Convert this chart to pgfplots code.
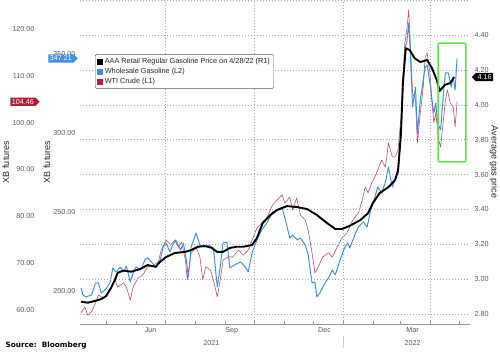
\documentclass[border=0pt]{standalone}
\usepackage{pgfplots}
\pgfplotsset{compat=1.18}
\usepackage{fontspec}
\setmainfont{Liberation Sans}
\newfontfamily\srcfont{DejaVu Sans}
\usetikzlibrary{shapes.symbols}

\definecolor{wblue}{RGB}{66,140,218}
\definecolor{wred}{RGB}{178,85,105}
\definecolor{tagblue}{RGB}{61,143,224}
\definecolor{tagred}{RGB}{178,30,60}
\definecolor{boxgreen}{RGB}{102,221,85}
\definecolor{ticktext}{RGB}{90,90,90}

\pgfplotstableread{
d v
94 2.871
101 2.865
109 2.876
115 2.886
120 2.903
125 2.949
129 2.995
132 3.037
138 3.049
146 3.043
155 3.058
163 3.081
171 3.071
176 3.100
182 3.127
191 3.150
202 3.157
208 3.167
215 3.186
222 3.190
229 3.180
235 3.156
241 3.157
248 3.179
255 3.186
262 3.186
271 3.196
276 3.236
282 3.322
290 3.368
297 3.397
307 3.419
317 3.414
328 3.402
338 3.368
348 3.324
357 3.288
364 3.288
372 3.306
383 3.339
391 3.379
396 3.437
403 3.494
412 3.528
419 3.569
422 3.626
425 3.838
427 4.125
430 4.325
434 4.314
439 4.268
445 4.245
452 4.257
457 4.211
462 4.142
465 4.079
470 4.113
476 4.125
480 4.159
}\retail

\pgfplotstableread{
d v
94 201.9
96 197.5
99 196.2
105 197.5
109 205.1
112 205.1
115 198.7
119 200.6
124 205.1
127 214.6
130 212.0
135 215.2
138 212.0
141 215.8
145 205.7
148 211.4
151 215.2
156 213.3
160 219.6
163 220.9
167 218.4
172 214.6
176 219.6
179 227.8
182 230.4
186 224.7
189 229.1
192 232.3
197 225.9
200 230.4
203 219.6
205 208.9
208 227.8
213 236.7
217 229.1
221 227.8
226 229.1
231 227.2
235 202.5
238 215.2
241 230.4
245 231.0
248 214.6
253 216.5
259 218.4
264 215.2
267 212.0
271 224.1
276 232.3
281 238.6
287 243.7
292 250.0
297 251.3
302 252.5
305 246.2
310 233.5
313 235.4
318 232.3
321 233.5
326 229.1
329 222.8
333 205.1
336 205.7
338 196.2
341 198.7
347 205.7
350 208.2
354 213.3
357 210.1
362 219.6
367 227.8
370 230.4
372 227.2
378 236.7
381 240.5
386 243.7
390 240.5
393 249.4
398 259.5
401 265.8
405 262.0
409 269.0
412 278.5
416 265.8
419 270.3
422 274.7
425 297.5
427 331.6
429 354.4
431 357.0
433 369.6
435 346.2
437 316.5
440 329.1
442 300.0
445 320.9
448 333.5
450 341.8
452 343.0
455 331.6
457 320.9
459 312.7
461 319.0
463 306.3
466 301.9
469 325.3
471 338.0
474 338.0
477 329.1
479 335.4
481 327.2
483 347.21
}\wholesale

\pgfplotstableread{
d v
94 59.4
98 60.6
101 58.9
105 59.6
109 61.5
112 63.2
117 62.6
122 63.6
125 64.9
129 66.4
132 64.9
138 65.8
141 64.9
145 62.1
148 64.9
153 66.8
158 67.5
163 69.2
169 69.6
174 70.2
177 72.8
182 74.9
187 73.9
191 74.9
195 73.4
198 74.5
202 70.7
204 66.4
208 72.2
213 73.4
217 71.3
220 66.4
223 69.2
228 68.5
231 66.4
235 62.8
238 66.4
241 70.7
246 71.3
251 71.3
257 72.8
262 71.7
267 72.8
271 74.9
276 77.5
281 78.6
287 79.9
292 82.4
297 83.5
302 84.6
305 82.8
310 84.1
313 81.3
317 83.9
321 80.3
326 79.2
329 77.1
333 72.2
336 67.9
339 69.0
344 71.3
350 72.2
354 71.3
359 73.4
364 75.4
369 76.4
372 77.7
375 79.2
381 80.7
385 83.5
388 86.3
391 85.0
395 87.3
398 88.4
401 89.9
405 92.0
409 90.5
412 95.7
416 92.7
419 92.7
422 94.2
425 101.2
427 109.1
429 117.0
431 119.8
433 124.1
435 115.5
437 106.3
440 104.8
442 95.7
445 102.1
448 107.6
450 114.0
452 114.9
455 110.6
457 104.8
459 99.9
461 102.1
464 96.3
466 94.8
471 104.8
473 107.0
476 104.2
479 103.3
481 99.1
483 104.46
}\wti

\pgfplotsset{
  base/.style={
    scale only axis, width=390pt, height=324pt,
    at={(80pt,31pt)}, anchor=south west,
    xmin=93, xmax=496.4,
    /pgf/number format/assume math mode=true,
    yticklabel style={font=\fontsize{7.2}{8}\selectfont, text=ticktext,
      /pgf/number format/fixed, /pgf/number format/fixed zerofill,
      /pgf/number format/precision=2, /pgf/number format/1000 sep={}},
    label style={font=\fontsize{9}{10}\selectfont, text=black!85},
  },
  leftaxis/.style={
    hide x axis, ytick pos=left, major tick length=0pt,
    axis line style={draw=none},
  },
}

\begin{document}
\begin{tikzpicture}
\path[use as bounding box] (0,0) rectangle (500pt,355pt);

% WTI crude (L1)
\begin{axis}[base, leftaxis,
  ymin=57.0, ymax=126.19,
  ytick={60,70,80,90,100,110,120},
  yticklabel style={xshift=-42pt},
  ylabel={XB futures},
  ylabel style={at={(axis description cs:-0.19,0.5)}, anchor=center},
]
\addplot[wred, line width=0.6pt, line join=round] table[x=d,y=v] {\wti};
\coordinate (tagW) at (axis cs:93,104.46);
\end{axis}

% Wholesale gasoline (L2)
\begin{axis}[base, leftaxis,
  ymin=179.1, ymax=384.2,
  ytick={200,250,300,350},
  yticklabel style={xshift=-1pt},
  ylabel={XB futures},
  ylabel style={at={(axis description cs:-0.085,0.5)}, anchor=center},
]
\addplot[wblue, line width=0.95pt, line join=round] table[x=d,y=v] {\wholesale};
\coordinate (tagX) at (axis cs:93,347.21);
\end{axis}

% Retail (R1)
\begin{axis}[base,
  clip mode=individual,
  ymin=2.743, ymax=4.601,
  axis x line*=bottom, axis y line*=right,
  y axis line style={draw=none},
  x axis line style={draw=gray!80, line width=0.6pt},
  ytick={2.8,3,3.2,3.4,3.6,3.8,4,4.2,4.4},
  extra y ticks={4.6}, extra y tick labels={},
  ymajorgrids=true, xmajorgrids=false,
  grid style={dash pattern=on 0.8pt off 2.2pt, gray!70, line width=0.5pt},
  major tick length=0pt,
  xtick={166,250,346,437},
  xticklabels={Jun,Sep,Dec,Mar},
  xticklabel style={font=\fontsize{7.2}{8}\selectfont, text=ticktext},
  minor xtick={120,151,181,212,243,273,304,334,365,396,424,455,485},
  minor tick length=3pt,
  minor tick style={draw=gray!80},
  extra x ticks={181,273,365,455}, extra x tick labels={},
  extra x tick style={grid=major},
  yticklabel style={xshift=1pt},
  ylabel={Average gas price},
  ylabel style={at={(axis description cs:1.0615,0.5)}, anchor=center, rotate=180},
  legend cell align=left,
  legend style={at={(0.0385,0.833)}, anchor=north west,
    draw=gray!70!black, fill=white, rounded corners=1.5pt,
    font=\fontsize{7.3}{8}\selectfont, text=black!85,
    inner sep=1.8pt, row sep=-0.8pt},
]
\addlegendimage{legend image code/.code={\fill[black, sharp corners] (0pt,-2.7pt) rectangle (5.4pt,2.7pt);}}
\addlegendentry{AAA Retail Regular Gasoline Price on 4/28/22 (R1)}
\addlegendimage{legend image code/.code={\fill[tagblue, sharp corners] (0pt,-2.7pt) rectangle (5.4pt,2.7pt);}}
\addlegendentry{Wholesale Gasoline (L2)}
\addlegendimage{legend image code/.code={\fill[tagred, sharp corners] (0pt,-2.7pt) rectangle (5.4pt,2.7pt);}}
\addlegendentry{WTI Crude (L1)}

\addplot[black, line width=1.9pt, line join=round, forget plot] table[x=d,y=v] {\retail};

\draw[boxgreen, line width=1.5pt, rounded corners=2pt]
  (axis cs:463.3,4.354) rectangle (axis cs:492.2,3.672);

\node[font=\fontsize{7.2}{8}\selectfont, text=ticktext, yshift=-19pt] at (axis cs:229,2.743) {2021};
\node[font=\fontsize{7.2}{8}\selectfont, text=ticktext, yshift=-19pt] at (axis cs:437,2.743) {2022};
\draw[gray!40, line width=0.6pt] (axis cs:365,2.743) ++(0pt,-12pt) -- ++(0pt,-12pt);
\coordinate (tagR) at (axis cs:496.4,4.159);
\end{axis}

\node[signal, signal to=east, fill=tagblue, text=white, inner sep=1.6pt,
  font=\fontsize{7.2}{7.5}\selectfont, anchor=east, xshift=-2pt] at (tagX) {347.21};
\node[signal, signal to=east, fill=tagred, text=white, inner sep=1.6pt,
  font=\fontsize{7.2}{7.5}\selectfont, anchor=east, xshift=-40pt] at (tagW) {104.46};
\node[signal, signal to=west, fill=black, text=white, inner sep=1.6pt,
  font=\fontsize{7.2}{7.5}\selectfont, anchor=west, xshift=1.5pt] at (tagR) {4.16};

\node[anchor=west, font=\srcfont\bfseries\fontsize{7.3}{8}\selectfont] at (2pt,9pt) {Source:\ \ Bloomberg};
\end{tikzpicture}
\end{document}
